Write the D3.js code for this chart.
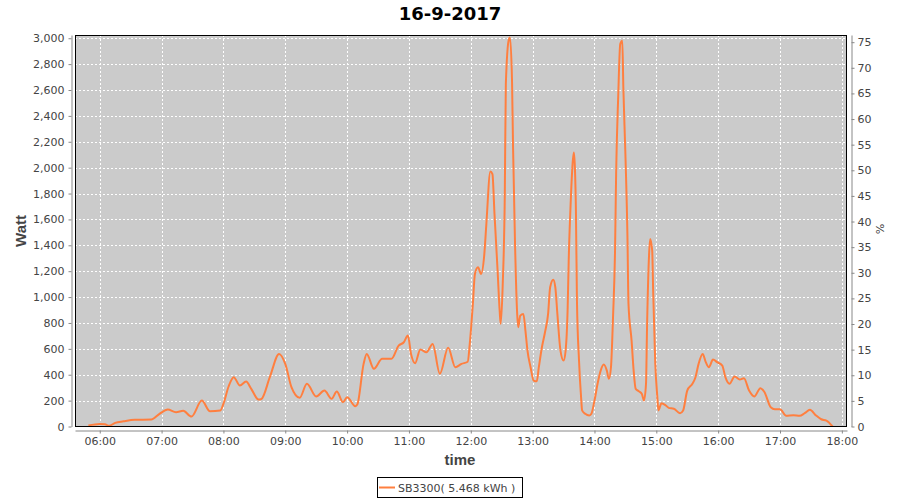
<!DOCTYPE html>
<html>
<head>
<meta charset="utf-8">
<script src="https://cdn.jsdelivr.net/npm/d3@7/dist/d3.min.js"></script>
<style>
  html, body { margin: 0; padding: 0; background: #ffffff; }
  svg { display: block; }
</style>
</head>
<body>
<svg id="chart" width="900" height="500"></svg>
<script>
// ---- data (time of day, Watt) ----
const times = ["05:49","06:00","06:05","06:09","06:15","06:23","06:34","06:50","06:58","07:06","07:14","07:21","07:29","07:39","07:47","07:57","08:00","08:05","08:10","08:16","08:22","08:27","08:34","08:37","08:45","08:54","09:00","09:06","09:14","09:21","09:30","09:38","09:45","09:50","09:56","10:00","10:08","10:10","10:16","10:19","10:26","10:34","10:43","10:50","10:55","10:59","11:02","11:06","11:11","11:17","11:23","11:30","11:38","11:45","11:51","11:57","11:59","12:02","12:04","12:07","12:10","12:13","12:15","12:19","12:21","12:23","12:26","12:28","12:29","12:31","12:33","12:34","12:37","12:38","12:40","12:41","12:43","12:45","12:46","12:48","12:51","12:53","12:55","12:58","13:01","13:04","13:06","13:09","13:12","13:15","13:17","13:20","13:22","13:24","13:27","13:30","13:32","13:34","13:35","13:37","13:39","13:40","13:41","13:42","13:43","13:45","13:47","13:48","13:51","13:55","13:57","14:00","14:03","14:06","14:09","14:12","14:14","14:16","14:18","14:20","14:21","14:23","14:25","14:27","14:28","14:30","14:32","14:33","14:36","14:38","14:40","14:43","14:46","14:48","14:50","14:51","14:53","14:54","14:56","14:57","14:59","15:01","15:02","15:05","15:09","15:12","15:17","15:23","15:26","15:30","15:35","15:38","15:41","15:45","15:48","15:51","15:55","15:59","16:04","16:07","16:11","16:16","16:21","16:25","16:30","16:35","16:41","16:45","16:51","16:55","17:00","17:06","17:13","17:19","17:24","17:29","17:35","17:40","17:45","17:51"];
const watts = [8,20,18,5,28,40,52,54,98,131,110,121,77,200,118,124,175,309,381,317,347,291,208,214,381,561,484,304,222,330,232,278,214,270,188,226,157,172,484,561,446,523,523,625,651,703,561,489,595,574,638,407,608,458,484,500,638,947,1179,1230,1179,1320,1552,1971,1950,1642,1205,896,793,1102,1797,2646,2994,3006,2672,2157,1385,870,767,857,870,741,587,458,355,349,458,612,728,870,1076,1133,1076,870,587,510,587,921,1282,1745,2054,2118,2002,1668,973,510,226,124,98,85,98,200,330,432,479,432,368,458,844,1385,1951,2543,2955,2981,2620,2106,1462,947,664,432,291,273,252,200,330,767,1334,1449,1359,1025,484,226,124,180,164,144,137,103,124,278,330,381,484,561,497,458,517,497,471,381,330,386,363,373,278,232,296,265,149,134,134,83,87,83,103,129,85,56,46,0];

const seriesName = "SB3300( 5.468 kWh )";
const titleText = "16-9-2017";
const xTickLabels = ["06:00","07:00","08:00","09:00","10:00","11:00","12:00","13:00","14:00","15:00","16:00","17:00","18:00"];
const leftTicks = [0,200,400,600,800,1000,1200,1400,1600,1800,2000,2200,2400,2600,2800,3000];
const rightTicks = [0,5,10,15,20,25,30,35,40,45,50,55,60,65,70,75];

const toMin = s => { const [h, m] = s.split(":").map(Number); return h * 60 + m; };
const data = times.map((t, i) => ({ t: toMin(t), w: watts[i] }));

// ---- layout ----
const plot = { left: 75, top: 35, right: 847, bottom: 426.5 };
const svg = d3.select("#chart");
const fontTick = "'DejaVu Sans', sans-serif";
const tickColor = "#444444";
const axisColor = "#888888";

const x = d3.scaleLinear().domain([toMin("05:36"), toMin("18:05")]).range([plot.left, plot.right]);
const yL = d3.scaleLinear().domain([0, 3025]).range([plot.bottom, plot.top]);
const yR = d3.scaleLinear().domain([0, 76.4]).range([plot.bottom, plot.top]);

// title
svg.append("text").attr("x", 450).attr("y", 20).attr("text-anchor", "middle")
  .attr("font-family", fontTick).attr("font-weight", "bold").attr("font-size", 18)
  .attr("fill", "#000").text(titleText);

// plot background
svg.append("rect").attr("x", plot.left).attr("y", plot.top)
  .attr("width", plot.right - plot.left).attr("height", plot.bottom - plot.top)
  .attr("fill", "#cbcbcb");

// grid
const grid = svg.append("g").attr("stroke", "#ffffff").attr("stroke-width", 1).attr("stroke-dasharray", "2,2");
xTickLabels.forEach(l => {
  const xx = Math.round(x(toMin(l))) + 0.5;
  grid.append("line").attr("x1", xx).attr("x2", xx).attr("y1", plot.top).attr("y2", plot.bottom);
});
leftTicks.forEach(v => {
  const yy = Math.round(yL(v)) + 0.5;
  grid.append("line").attr("x1", plot.left).attr("x2", plot.right).attr("y1", yy).attr("y2", yy);
});

// line
const clipId = "plotclip";
svg.append("clipPath").attr("id", clipId).append("rect")
  .attr("x", plot.left).attr("y", plot.top - 1)
  .attr("width", plot.right - plot.left).attr("height", plot.bottom - plot.top + 1);
const line = d3.line().x(d => x(d.t)).y(d => yL(d.w)).curve(d3.curveMonotoneX);
svg.append("path").datum(data).attr("d", line)
  .attr("fill", "none").attr("stroke", "#ff7f3f").attr("stroke-width", 2)
  .attr("stroke-linejoin", "round").attr("clip-path", `url(#${clipId})`);

// plot border
svg.append("rect").attr("x", plot.left + 0.5).attr("y", plot.top + 0.5)
  .attr("width", plot.right - plot.left - 1).attr("height", plot.bottom - plot.top - 0.5)
  .attr("fill", "none").attr("stroke", "#000").attr("stroke-width", 1);

// axes
function styleAxis(g) {
  g.select(".domain").attr("stroke", axisColor);
  g.selectAll(".tick line").attr("stroke", axisColor);
  g.selectAll(".tick text").attr("fill", tickColor).attr("font-family", fontTick).attr("font-size", 11);
}
const leftAxis = d3.axisLeft(yL).tickValues(leftTicks).tickSize(3).tickSizeOuter(0).tickPadding(4)
  .tickFormat(d3.format(","));
svg.append("g").attr("transform", "translate(71.5,0)").call(leftAxis).call(styleAxis);

const rightAxis = d3.axisRight(yR).tickValues(rightTicks).tickSize(3).tickSizeOuter(0).tickPadding(3)
  .tickFormat(d3.format("d"));
svg.append("g").attr("transform", "translate(851.5,0)").call(rightAxis).call(styleAxis);

const bottomAxis = d3.axisBottom(x).tickValues(xTickLabels.map(toMin)).tickSize(3).tickSizeOuter(0).tickPadding(4)
  .tickFormat((d, i) => xTickLabels[i]);
svg.append("g").attr("transform", "translate(0,430.5)").call(bottomAxis).call(styleAxis);

// axis labels
svg.append("text").attr("transform", "translate(26,231) rotate(-90)").attr("text-anchor", "middle")
  .attr("font-family", "'Liberation Sans', sans-serif").attr("font-weight", "bold").attr("font-size", 15)
  .attr("fill", tickColor).text("Watt");
svg.append("text").attr("x", 460).attr("y", 465).attr("text-anchor", "middle")
  .attr("font-family", "'Liberation Sans', sans-serif").attr("font-weight", "bold").attr("font-size", 15)
  .attr("fill", tickColor).text("time");
svg.append("text").attr("transform", "translate(876,229) rotate(90)").attr("text-anchor", "middle")
  .attr("font-family", fontTick).attr("font-size", 11)
  .attr("fill", tickColor).text("%");

// legend
const lg = svg.append("g");
lg.append("rect").attr("x", 377.5).attr("y", 477.5).attr("width", 145).attr("height", 20)
  .attr("fill", "#fff").attr("stroke", "#000");
lg.append("line").attr("x1", 379).attr("x2", 395).attr("y1", 487.5).attr("y2", 487.5)
  .attr("stroke", "#ff7f3f").attr("stroke-width", 2);
lg.append("text").attr("x", 398).attr("y", 491.5).attr("font-family", fontTick).attr("font-size", 11)
  .attr("fill", tickColor).text(seriesName);
</script>
</body>
</html>
